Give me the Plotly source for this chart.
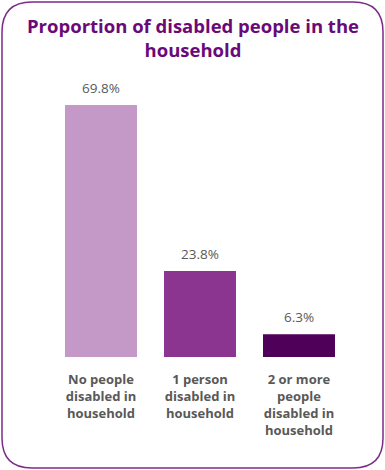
import plotly.graph_objects as go

categories = ["No people<br>disabled in<br>household", "1 person<br>disabled in<br>household", "2 or more<br>people<br>disabled in<br>household"]
values = [69.8, 23.8, 6.3]
value_labels = ["69.8%", "23.8%", "6.3%"]
colors = ["#C499C8", "#8B3591", "#4F0058"]

W, H = 385, 470
x0, x1 = 51.5, 348.5
ytop, ybase = 80, 357
px_per = (ybase - 105) / values[0]
ymax = (ybase - ytop) / px_per

fig = go.Figure(go.Bar(
    x=categories, y=values, marker_color=colors, marker_line_width=0,
    hoverinfo="skip",
))

# rounded border in paper coords
def px(x): return x / W
def py(y): return 1 - y / H
r = 30
L, R, T, B = 2, 383, 2, 468
path = (f"M {px(L+r)},{py(T)} L {px(R-r)},{py(T)} Q {px(R)},{py(T)} {px(R)},{py(T+r)} "
        f"L {px(R)},{py(B-r)} Q {px(R)},{py(B)} {px(R-r)},{py(B)} "
        f"L {px(L+r)},{py(B)} Q {px(L)},{py(B)} {px(L)},{py(B-r)} "
        f"L {px(L)},{py(T+r)} Q {px(L)},{py(T)} {px(L+r)},{py(T)} Z")

annotations = [dict(text="Proportion of disabled people in the<br>household", xref="paper", yref="paper",
                    x=0.5, y=py(11), xanchor="center", yanchor="top", showarrow=False,
                    font=dict(family="Open Sans", size=18.5, color="#6A0A78", weight="bold"))]
for c, v, t in zip(categories, values, value_labels):
    annotations.append(dict(x=c, y=v, xref="x", yref="y", text=t, showarrow=False,
                            yanchor="bottom", yshift=6,
                            font=dict(family="Open Sans", size=13.5, color="#595959")))

fig.update_layout(
    width=W, height=H, margin=dict(l=0, r=0, t=0, b=0),
    paper_bgcolor="white", plot_bgcolor="white", showlegend=False,
    bargap=0.273,
    xaxis=dict(domain=[x0 / W, x1 / W], showline=False, showgrid=False, zeroline=False,
               ticks="", automargin=False, tickangle=0, ticklabelstandoff=13,
               tickfont=dict(family="Open Sans", size=13, color="#595959", weight="bold")),
    yaxis=dict(domain=[1 - ybase / H, 1 - ytop / H], range=[0, ymax], visible=False),
    shapes=[dict(type="path", xref="paper", yref="paper", path=path,
                 line=dict(color="#7B2C87", width=1.5), fillcolor="rgba(0,0,0,0)", layer="above")],
    annotations=annotations,
)
fig.write_html("out.html", config={"displayModeBar": False},
               post_script="document.body.style.margin='0';document.body.style.padding='0';")
